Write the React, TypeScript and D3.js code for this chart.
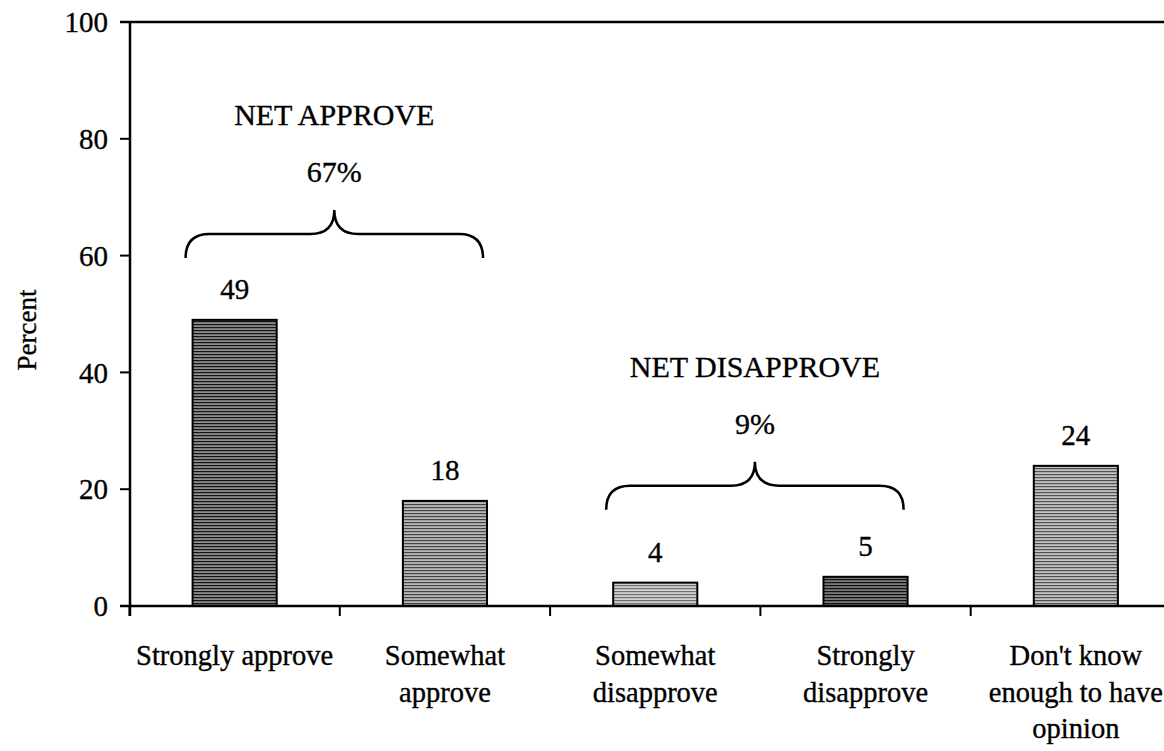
import React from "react";
import * as d3 from "d3";

const categories = [
  ["Strongly approve"],
  ["Somewhat", "approve"],
  ["Somewhat", "disapprove"],
  ["Strongly", "disapprove"],
  ["Don't know", "enough to have", "opinion"],
];
const values = [49, 18, 4, 5, 24];
const yTicks = [0, 20, 40, 60, 80, 100];
const groupLabels = ["NET APPROVE", "NET DISAPPROVE"];
const groupTotals = ["67%", "9%"];
const groupMembers = [
  [0, 1],
  [2, 3],
];
const groupLevels = [59.6, 16.5];

const barBase = ["#8c8c8c", "#b8b8b8", "#d2d2d2", "#7a7a7a", "#c2c2c2"];
const barLine = ["#151515", "#444444", "#707070", "#101010", "#505050"];

const W = 1164;
const H = 751;
const FONT = "'Liberation Serif', 'Times New Roman', serif";
const TS = { stroke: "#000", strokeWidth: 0.35 };

export default function App() {
  const keys = categories.map((c) => c.join(" "));
  const x = d3
    .scaleBand<string>()
    .domain(keys)
    .range([129.5, 1181])
    .paddingInner(0.6)
    .paddingOuter(0.3);
  const y = d3.scaleLinear().domain([0, 100]).range([606, 22]);
  const step = x.step();
  const bw = x.bandwidth();
  const boundaries = d3.range(keys.length + 1).map((i) => 129.5 + i * step);

  return (
    <svg
      width={W}
      height={H}
      style={{ position: "absolute", left: 0, top: 0, background: "#fff" }}
      fontFamily={FONT}
    >
      <defs>
        {barBase.map((c, i) => (
          <pattern
            key={i}
            id={`pat${i}`}
            width={4}
            height={3}
            patternUnits="userSpaceOnUse"
          >
            <rect width={4} height={3} fill={c} />
            <rect width={4} height={1.2} fill={barLine[i]} />
          </pattern>
        ))}
      </defs>

      {/* top border */}
      <line x1={120} x2={W} y1={y(100)} y2={y(100)} stroke="#000" strokeWidth={2.5} />
      {/* y axis */}
      <line x1={130} x2={130} y1={y(100)} y2={y(0) + 10} stroke="#000" strokeWidth={2.5} />
      {yTicks.map((t) => (
        <g key={t}>
          <line x1={120} x2={130} y1={y(t)} y2={y(t)} stroke="#000" strokeWidth={2} />
          <text
            x={108}
            y={y(t)}
            dy="0.35em"
            textAnchor="end"
            fontSize={29}
            fill="#000"
            {...TS}
          >
            {t}
          </text>
        </g>
      ))}
      <text
        transform={`translate(36,${(y(0) + y(100)) / 2 + 16}) rotate(-90)`}
        textAnchor="middle"
        fontSize={27}
        fill="#000"
        {...TS}
      >
        Percent
      </text>

      {/* bars */}
      {values.map((v, i) => (
        <g key={i}>
          <rect
            x={x(keys[i])!}
            y={y(v)}
            width={bw}
            height={y(0) - y(v)}
            fill={`url(#pat${i})`}
            stroke="#000"
            strokeWidth={2}
          />
          <text
            x={x(keys[i])! + bw / 2}
            y={y(v) - 21}
            textAnchor="middle"
            fontSize={29}
            fill="#000"
            {...TS}
          >
            {v}
          </text>
        </g>
      ))}

      {/* x axis */}
      <line x1={120} x2={W} y1={y(0)} y2={y(0)} stroke="#000" strokeWidth={2.5} />
      {boundaries.map((b, i) => (
        <line key={i} x1={b} x2={b} y1={y(0)} y2={y(0) + 10} stroke="#000" strokeWidth={2} />
      ))}
      {categories.map((lines, i) => (
        <text
          key={i}
          x={x(keys[i])! + bw / 2}
          y={665}
          textAnchor="middle"
          fontSize={28.5}
          fill="#000"
          {...TS}
        >
          {lines.map((l, j) => (
            <tspan key={j} x={x(keys[i])! + bw / 2} dy={j === 0 ? 0 : 36.5}>
              {l}
            </tspan>
          ))}
        </text>
      ))}

      {/* braces */}
      {groupMembers.map((m, gi) => {
        const x0 = x(keys[m[0]])! - 7;
        const x1 = x(keys[m[m.length - 1]])! + bw - 4;
        const xm = (x0 + x1) / 2;
        const yEnd = y(groupLevels[gi]);
        const yMid = yEnd - 24;
        const yTip = yMid - 24;
        const r = 24;
        const d = `M${x0},${yEnd} Q${x0},${yMid} ${x0 + r},${yMid} L${xm - r},${yMid} Q${xm},${yMid} ${xm},${yTip} Q${xm},${yMid} ${xm + r},${yMid} L${x1 - r},${yMid} Q${x1},${yMid} ${x1},${yEnd}`;
        return (
          <g key={gi}>
            <path d={d} fill="none" stroke="#000" strokeWidth={2.5} />
            <text x={xm} y={yTip - 28} textAnchor="middle" fontSize={30} fill="#000" {...TS}>
              {groupTotals[gi]}
            </text>
            <text x={xm} y={yTip - 85} textAnchor="middle" fontSize={30} fill="#000" {...TS}>
              {groupLabels[gi]}
            </text>
          </g>
        );
      })}
    </svg>
  );
}
